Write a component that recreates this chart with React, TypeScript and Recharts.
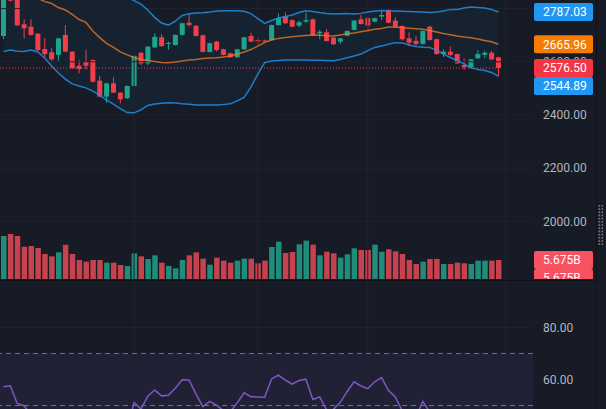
import React from 'react';
import { ComposedChart, Bar, Line, Area, XAxis, YAxis, ReferenceLine, ReferenceArea, Cell } from 'recharts';

const opens = [2697, 2860, 2835, 2741, 2732, 2706, 2648, 2636, 2626, 2701, 2638, 2585, 2600, 2607, 2529, 2469, 2519, 2484, 2463, 2509, 2634, 2594, 2654, 2692, 2667, 2663, 2701, 2747, 2735, 2700, 2637, 2676, 2647, 2632, 2617, 2647, 2697, 2682, 2680, 2682, 2738, 2770, 2757, 2736, 2751, 2760, 2707, 2711, 2691, 2676, 2698, 2720, 2760, 2764, 2751, 2770, 2795, 2755, 2735, 2688, 2679, 2667, 2732, 2685, 2629, 2638, 2629, 2588, 2579, 2613, 2626, 2634, 2617];
const highs = [2860, 2870, 2840, 2760, 2760, 2708, 2688, 2651, 2690, 2738, 2640, 2607, 2644, 2608, 2547, 2521, 2542, 2486, 2511, 2624, 2638, 2659, 2707, 2704, 2676, 2703, 2747, 2780, 2738, 2702, 2672, 2678, 2649, 2634, 2649, 2694, 2709, 2692, 2683, 2740, 2782, 2785, 2759, 2755, 2785, 2762, 2720, 2722, 2693, 2690, 2718, 2757, 2776, 2766, 2766, 2795, 2797, 2767, 2737, 2711, 2697, 2718, 2735, 2687, 2647, 2657, 2631, 2613, 2611, 2644, 2641, 2641, 2619];
const lows = [2685, 2826, 2735, 2688, 2699, 2640, 2617, 2604, 2604, 2636, 2574, 2557, 2572, 2523, 2467, 2446, 2482, 2444, 2461, 2507, 2588, 2588, 2652, 2657, 2645, 2661, 2699, 2732, 2695, 2635, 2635, 2639, 2624, 2615, 2615, 2645, 2674, 2664, 2676, 2680, 2736, 2743, 2730, 2730, 2745, 2699, 2685, 2676, 2664, 2667, 2696, 2718, 2740, 2713, 2749, 2757, 2745, 2727, 2680, 2659, 2659, 2665, 2680, 2627, 2617, 2622, 2592, 2569, 2577, 2611, 2613, 2607, 2547];
const closes = [2850, 2830, 2737, 2726, 2701, 2644, 2629, 2609, 2688, 2638, 2576, 2573, 2585, 2525, 2469, 2519, 2484, 2459, 2509, 2622, 2594, 2657, 2694, 2659, 2671, 2701, 2745, 2738, 2697, 2637, 2670, 2644, 2626, 2617, 2647, 2692, 2676, 2677, 2677, 2738, 2764, 2745, 2732, 2749, 2757, 2701, 2713, 2678, 2666, 2688, 2716, 2755, 2742, 2736, 2764, 2776, 2747, 2732, 2685, 2672, 2667, 2716, 2682, 2629, 2638, 2626, 2594, 2580, 2609, 2629, 2634, 2609, 2576.5];
const volumesB = [12.84, 13.44, 12.84, 9.65, 9.86, 9.26, 7.47, 6.77, 7.96, 10.25, 7.47, 5.68, 5.18, 5.68, 5.68, 4.88, 4.88, 4.18, 3.88, 7.67, 6.77, 5.97, 7.07, 4.88, 3.88, 3.19, 5.68, 7.07, 7.96, 6.07, 4.28, 6.37, 5.48, 4.88, 5.48, 6.07, 6.07, 4.68, 5.48, 9.56, 11.15, 7.77, 8.06, 10.35, 11.45, 10.25, 7.07, 8.16, 7.67, 6.37, 7.37, 9.16, 8.66, 8.66, 10.25, 8.16, 8.86, 8.26, 7.47, 5.68, 4.48, 5.18, 5.97, 5.97, 4.48, 4.48, 4.88, 4.68, 4.48, 5.48, 5.48, 5.48, 5.675];
const bbUpper = [3121, 3100, 3090, 3075, 3052, 3039, 3040, 3054, 3050, 3055, 3039, 3009, 2994, 2954, 2915, 2878, 2867, 2850, 2843, 2830, 2817, 2795, 2767, 2746, 2738, 2753, 2774, 2781, 2783, 2784, 2787, 2791, 2792, 2792, 2792, 2790, 2781, 2762, 2744, 2755, 2765, 2770, 2776, 2785, 2792, 2789, 2785, 2782, 2780, 2781, 2782, 2780, 2782, 2787, 2791, 2793, 2791, 2791, 2790, 2789, 2788, 2787, 2785, 2787, 2791, 2797, 2797, 2802, 2806, 2804, 2802, 2797, 2787.03];
const bbBasis = [2880, 2872, 2865, 2857, 2848, 2838, 2827, 2819, 2804, 2795, 2778, 2759, 2748, 2716, 2691, 2669, 2654, 2637, 2626, 2616, 2609, 2605, 2601, 2597, 2596, 2599, 2603, 2607, 2609, 2612, 2614, 2615, 2618, 2622, 2629, 2637, 2646, 2659, 2673, 2682, 2688, 2691, 2694, 2697, 2699, 2701, 2700, 2698, 2697, 2701, 2705, 2708, 2713, 2718, 2722, 2725, 2731, 2731, 2728, 2726, 2724, 2722, 2718, 2712, 2706, 2702, 2697, 2693, 2690, 2686, 2680, 2675, 2665.96];
const bbLower = [2639, 2644, 2640, 2639, 2644, 2637, 2614, 2584, 2558, 2535, 2517, 2509, 2502, 2490, 2475, 2456, 2441, 2424, 2409, 2408, 2419, 2436, 2441, 2444, 2446, 2445, 2442, 2440, 2438, 2438, 2438, 2438, 2439, 2442, 2453, 2466, 2505, 2554, 2597, 2603, 2605, 2607, 2607, 2607, 2607, 2606, 2606, 2605, 2604, 2609, 2615, 2622, 2629, 2642, 2654, 2659, 2666, 2672, 2671, 2663, 2657, 2655, 2654, 2644, 2629, 2616, 2605, 2592, 2577, 2571, 2567, 2560, 2544.89];
const rsiValues = [57.2, 57.6, 50.8, 49.9, 46.5, 41.5, 40, 37.5, 42, 38.5, 34, 33.5, 33, 29, 26, 34, 33, 31, 40, 51.2, 48.6, 53.6, 56, 53.7, 53.9, 56.6, 59.9, 59.8, 54.5, 49.6, 51.6, 50.1, 48, 47.6, 51, 54.9, 53.4, 53.3, 53.2, 60.2, 61.7, 59.8, 58.2, 59.6, 60.1, 52.3, 53.3, 48.4, 48.5, 51.2, 55.4, 59.1, 57.5, 56.5, 59.1, 60.7, 55.8, 53.3, 48, 46.5, 45.5, 51.6, 47.5, 41.5, 42.5, 41, 37.5, 36.5, 40, 42, 42.5, 40, 35];

const priceTicks = [2000, 2200, 2400, 2600, 2800];
const rsiTicks = [60, 80];
const rsiBands = [70, 50];
const gridIndices = [19, 37, 53, 73];
const volumeTagText = '5.675B';

const BG = '#171b26';
const GRID = '#1f2330';
const UP = '#1ca58b';
const DOWN = '#f03e4c';
const VOL_UP = '#208d7b';
const VOL_DOWN = '#c6424e';
const BAND_BLUE = '#2196f3';
const BASIS_ORANGE = '#f57c1f';
const TEXT = '#b2b5be';

const N = closes.length;
const xDomain: [number, number] = [-0.5, 77.03];
const priceDomain: [number, number] = [1779.7, 2832.3];

const data = closes.map((c, i) => ({
  i,
  o: opens[i],
  h: highs[i],
  l: lows[i],
  c,
  wick: [lows[i], highs[i]],
  up: bbUpper[i],
  mid: bbBasis[i],
  lo: bbLower[i],
  band: [bbLower[i], bbUpper[i]],
  vol: volumesB[i],
  rsi: rsiValues[i],
}));

const Candle = (props: any) => {
  const { x, y, width, height, payload } = props;
  if (x == null || y == null || !payload) return null;
  const { o, h, l, c } = payload;
  const top = Math.min(y, y + height);
  const bot = Math.max(y, y + height);
  const k = h === l ? 0 : (bot - top) / (h - l);
  const yOf = (v: number) => top + (h - v) * k;
  const cx = x + width / 2;
  const color = c >= o ? UP : DOWN;
  const bTop = yOf(Math.max(o, c));
  const bBot = yOf(Math.min(o, c));
  return (
    <g>
      <line x1={cx} x2={cx} y1={top} y2={bot} stroke={color} strokeWidth={1} />
      <rect x={x} y={bTop} width={width} height={Math.max(1, bBot - bTop)} fill={color} />
    </g>
  );
};

const PriceTag = (props: any) => {
  const { viewBox, text, bg, dy = 0 } = props;
  if (!viewBox) return null;
  const x0 = viewBox.x + viewBox.width;
  const cy = viewBox.y + dy;
  return (
    <g>
      <rect x={x0 + 1} y={cy - 9} width={59} height={18} rx={2} fill={bg} />
      <text x={x0 + 10} y={cy} dy="0.36em" fill="#ffffff" fontSize={12}>{text}</text>
    </g>
  );
};

const fmt = (v: number) => v.toFixed(2);

export default function App() {
  return (
    <div style={{ position: 'absolute', left: 0, top: 0, width: 606, height: 409, background: BG, overflow: 'hidden', fontFamily: 'Roboto, sans-serif' }}>
      {/* volume layer */}
      <div style={{ position: 'absolute', left: 0, top: 0 }}>
        <ComposedChart width={596} height={279} data={data} margin={{ top: 0, right: 63, bottom: 0, left: 0 }}>
          <XAxis dataKey="i" type="number" domain={xDomain} hide allowDataOverflow />
          <YAxis yAxisId="v" domain={[0, 83.33]} hide allowDataOverflow />
          <Bar yAxisId="v" dataKey="vol" barSize={5.5} isAnimationActive={false}>
            {data.map((d, i) => (
              <Cell key={i} fill={d.c >= d.o ? VOL_UP : VOL_DOWN} />
            ))}
          </Bar>
          <ReferenceLine yAxisId="v" y={volumesB[N - 1]} stroke="none" label={<PriceTag text={volumeTagText} bg="#f7525f" />} />
          <ReferenceLine yAxisId="v" y={volumesB[N - 1]} stroke="none" label={<PriceTag text={volumeTagText} bg="#f7525f" dy={18} />} />
        </ComposedChart>
      </div>
      {/* price layer */}
      <div style={{ position: 'absolute', left: 0, top: 0 }}>
        <ComposedChart width={596} height={280} data={data} margin={{ top: 0, right: 0, bottom: 0, left: 0 }}>
          <XAxis dataKey="i" type="number" domain={xDomain} hide allowDataOverflow />
          <YAxis
            yAxisId="p"
            orientation="right"
            width={63}
            domain={priceDomain}
            allowDataOverflow
            ticks={priceTicks}
            interval={0}
            tickFormatter={fmt}
            axisLine={false}
            tickLine={false}
            tickSize={6}
            tickMargin={4}
            tick={{ fill: TEXT, fontSize: 12 }}
          />
          {priceTicks.map((t) => (
            <ReferenceLine key={'h' + t} yAxisId="p" y={t} stroke={GRID} strokeWidth={1} />
          ))}
          {gridIndices.map((g) => (
            <ReferenceLine key={'v' + g} yAxisId="p" x={g} stroke={GRID} strokeWidth={1} />
          ))}
          <Area yAxisId="p" dataKey="band" stroke="none" fill={BAND_BLUE} fillOpacity={0.06} dot={false} activeDot={false} isAnimationActive={false} />
          <Line yAxisId="p" dataKey="up" stroke={BAND_BLUE} strokeOpacity={0.8} strokeWidth={1.5} dot={false} activeDot={false} isAnimationActive={false} />
          <Line yAxisId="p" dataKey="lo" stroke={BAND_BLUE} strokeOpacity={0.8} strokeWidth={1.5} dot={false} activeDot={false} isAnimationActive={false} />
          <Line yAxisId="p" dataKey="mid" stroke={BASIS_ORANGE} strokeOpacity={0.75} strokeWidth={1.5} dot={false} activeDot={false} isAnimationActive={false} />
          <ReferenceLine
            yAxisId="p"
            segment={[{ x: xDomain[0], y: closes[N - 1] }, { x: N - 1, y: closes[N - 1] }]}
            stroke={DOWN}
            strokeDasharray="1 2"
          />
          <Bar yAxisId="p" dataKey="wick" barSize={5} shape={<Candle />} activeBar={false} isAnimationActive={false} />
        </ComposedChart>
      </div>
      {/* price tags overlay, above the axis text */}
      <div style={{ position: 'absolute', left: 0, top: 0, pointerEvents: 'none' }}>
        <ComposedChart width={596} height={280} data={data} margin={{ top: 0, right: 63, bottom: 0, left: 0 }}>
          <XAxis dataKey="i" type="number" domain={xDomain} hide allowDataOverflow />
          <YAxis yAxisId="t" domain={priceDomain} hide allowDataOverflow />
          <ReferenceLine yAxisId="t" y={bbUpper[N - 1]} stroke="none" label={<PriceTag text={fmt(bbUpper[N - 1])} bg={BAND_BLUE} />} />
          <ReferenceLine yAxisId="t" y={bbBasis[N - 1]} stroke="none" label={<PriceTag text={fmt(bbBasis[N - 1])} bg="#f57c00" />} />
          <ReferenceLine yAxisId="t" y={closes[N - 1]} stroke="none" label={<PriceTag text={fmt(closes[N - 1])} bg="#f23645" />} />
          <ReferenceLine yAxisId="t" y={bbLower[N - 1]} stroke="none" label={<PriceTag text={fmt(bbLower[N - 1])} bg={BAND_BLUE} dy={9.6} />} />
        </ComposedChart>
      </div>
      {/* pane separator */}
      <div style={{ position: 'absolute', left: 0, top: 280, width: 596, height: 1, background: '#0f1219' }} />
      {/* RSI pane */}
      <div style={{ position: 'absolute', left: 0, top: 281 }}>
        <ComposedChart width={596} height={128} data={data} margin={{ top: 0, right: 0, bottom: 0, left: 0 }}>
          <XAxis dataKey="i" type="number" domain={xDomain} hide allowDataOverflow />
          <YAxis
            yAxisId="r"
            orientation="right"
            width={63}
            domain={[48.65, 97.88]}
            allowDataOverflow
            ticks={rsiTicks}
            interval={0}
            tickFormatter={fmt}
            axisLine={false}
            tickLine={false}
            tickSize={6}
            tickMargin={4}
            tick={{ fill: TEXT, fontSize: 12 }}
          />
          {rsiTicks.map((t) => (
            <ReferenceLine key={'rh' + t} yAxisId="r" y={t} stroke={GRID} strokeWidth={1} />
          ))}
          {gridIndices.map((g) => (
            <ReferenceLine key={'rv' + g} yAxisId="r" x={g} stroke={GRID} strokeWidth={1} />
          ))}
          <ReferenceArea yAxisId="r" y1={30} y2={rsiBands[0]} fill="#7e57c2" fillOpacity={0.1} stroke="none" ifOverflow="hidden" />
          {rsiBands.map((b) => (
            <ReferenceLine key={'rb' + b} yAxisId="r" y={b} stroke="#6f7280" strokeDasharray="5 4" strokeWidth={1} />
          ))}
          <Line yAxisId="r" dataKey="rsi" stroke="#7e57c2" strokeWidth={1.5} dot={false} activeDot={false} isAnimationActive={false} />
        </ComposedChart>
      </div>
      {/* right border and grip */}
      <div style={{ position: 'absolute', left: 596, top: 0, width: 1, height: 409, background: '#0f1219' }} />
      <svg style={{ position: 'absolute', left: 597, top: 204 }} width={8} height={44}>
        {Array.from({ length: 13 }).map((_, r) => (
          <g key={r}>
            <rect x={1.5} y={1 + r * 3.2} width={1.6} height={1.6} fill="#787b86" />
            <rect x={4.5} y={1 + r * 3.2} width={1.6} height={1.6} fill="#787b86" />
          </g>
        ))}
      </svg>
    </div>
  );
}
